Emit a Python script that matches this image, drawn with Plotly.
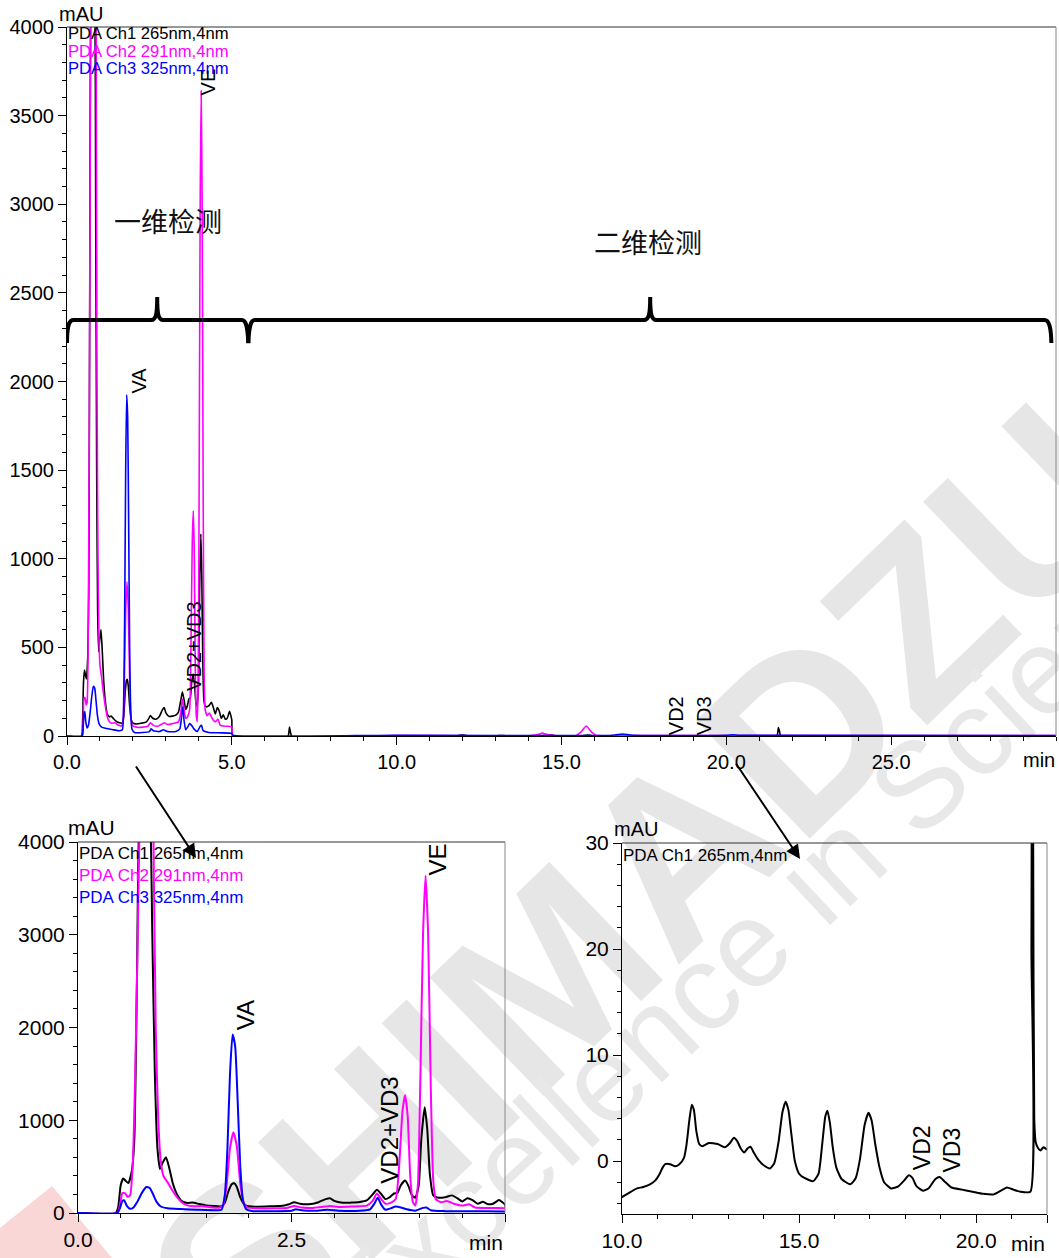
import plotly.graph_objects as go

W, H = 1059, 1258
FONT = "Liberation Sans, Arial, sans-serif"
CJK = "Noto Sans CJK SC"

# ---------------- data (time in min, absorbance in mAU) ----------------
# PDA Ch1 265nm (black)
CH1_DIM1 = [(0.00, 0), (0.44, 0), (0.47, 60), (0.50, 300), (0.53, 372), (0.56, 345), (0.59, 322),
            (0.63, 450), (0.66, 800), (0.69, 2500), (0.72, 4300), (0.78, 4700), (0.84, 4400),
            (0.87, 3000), (0.90, 1500), (0.93, 700), (0.96, 475), (0.99, 540), (1.03, 600),
            (1.07, 480), (1.11, 320), (1.16, 200), (1.22, 125), (1.28, 108), (1.34, 112),
            (1.42, 96), (1.50, 82), (1.59, 75), (1.68, 73), (1.72, 110), (1.76, 230), (1.80, 310),
            (1.83, 320), (1.86, 280), (1.90, 170), (1.95, 90), (2.00, 72), (2.10, 68), (2.25, 72),
            (2.40, 78), (2.47, 95), (2.53, 115), (2.60, 100), (2.70, 95), (2.80, 110), (2.90, 150),
            (2.95, 160), (3.00, 130), (3.10, 110), (3.20, 112), (3.30, 118), (3.38, 135),
            (3.45, 200), (3.50, 250), (3.55, 205), (3.60, 150), (3.65, 170), (3.70, 210),
            (3.74, 215), (3.78, 300), (3.83, 350), (3.87, 290), (3.91, 190), (3.95, 165),
            (3.99, 300), (4.02, 800), (4.06, 1140), (4.09, 900), (4.12, 420), (4.16, 190),
            (4.22, 165), (4.30, 170), (4.38, 190), (4.44, 160), (4.50, 125), (4.56, 160),
            (4.62, 140), (4.68, 100), (4.74, 120), (4.80, 95), (4.86, 100), (4.93, 140),
            (4.97, 115), (5.00, 90)]
CH1_DIM2 = [(5.03, -3), (5.5, -4), (6.5, -4), (6.70, -4), (6.73, 20), (6.75, 50), (6.78, 20),
            (6.82, -3), (7.5, -6), (8.5, -6), (9.5, -4.5),
            (10.0, -3.4), (10.2, -3.0), (10.41, -2.6), (10.6, -2.45), (10.79, -2.2), (10.95, -1.8),
            (11.05, -1.3), (11.15, -0.6), (11.22, -0.3), (11.36, -0.3), (11.5, -0.5), (11.62, -0.3),
            (11.75, 0.3), (11.82, 1.5), (11.9, 3.8), (11.97, 5.3), (12.03, 4.8), (12.1, 2.8),
            (12.18, 1.6), (12.27, 1.4), (12.45, 1.7), (12.7, 1.6), (12.9, 1.3), (13.05, 1.7),
            (13.16, 2.2), (13.25, 1.9), (13.35, 1.2), (13.45, 0.8), (13.55, 1.2), (13.63, 1.35),
            (13.72, 0.8), (13.85, 0.1), (14.0, -0.4), (14.18, -0.7), (14.3, -0.2), (14.42, 1.8),
            (14.53, 4.6), (14.62, 5.6), (14.7, 4.8), (14.78, 2.6), (14.88, 0.0), (15.0, -1.2),
            (15.15, -1.6), (15.4, -1.9), (15.55, -1.2), (15.65, 1.5), (15.74, 4.2), (15.8, 4.75),
            (15.87, 3.6), (15.95, 1.3), (16.05, -0.6), (16.2, -1.7), (16.45, -2.2), (16.6, -1.6),
            (16.72, 0.2), (16.85, 3.4), (16.96, 4.55), (17.05, 3.8), (17.15, 1.6), (17.27, -0.6),
            (17.4, -2.0), (17.6, -2.6), (17.8, -2.4), (17.95, -1.9), (18.1, -1.35), (18.2, -1.6),
            (18.32, -2.4), (18.5, -2.8), (18.65, -2.6), (18.85, -1.7), (18.97, -1.5), (19.1, -1.9),
            (19.3, -2.5), (19.6, -2.7), (19.9, -2.9), (20.2, -3.1), (20.5, -3.15), (20.7, -2.8),
            (20.87, -2.5), (21.05, -2.7), (21.25, -2.9), (21.53, -2.9), (21.56, 20), (21.58, 48),
            (21.61, 30), (21.64, 4), (21.68, 1.8), (21.75, 1.2), (21.82, 1.0), (21.9, 1.3),
            (22.0, 1.1), (22.3, 1.0), (23.0, 0.5), (25.0, 0.3), (27.0, 0.2), (30.0, 0.2)]

# PDA Ch2 291nm (magenta)
CH2_DIM1 = [(0.00, 0), (0.46, 0), (0.49, 80), (0.52, 215), (0.55, 215), (0.58, 175), (0.61, 190),
            (0.64, 500), (0.67, 1500), (0.70, 3000), (0.73, 4300), (0.80, 4700), (0.86, 4600),
            (0.89, 3500), (0.91, 2000), (0.94, 1000), (0.97, 550), (1.00, 400), (1.05, 330),
            (1.10, 250), (1.16, 170), (1.22, 110), (1.28, 82), (1.35, 72), (1.45, 75), (1.55, 62),
            (1.65, 56), (1.70, 80), (1.74, 300), (1.78, 700), (1.82, 870), (1.86, 720), (1.90, 320),
            (1.94, 110), (1.98, 60), (2.10, 50), (2.30, 50), (2.45, 55), (2.53, 75), (2.62, 60),
            (2.75, 55), (2.90, 70), (2.95, 75), (3.05, 65), (3.20, 70), (3.38, 80), (3.45, 130),
            (3.50, 210), (3.55, 150), (3.60, 100), (3.66, 110), (3.72, 150), (3.76, 500),
            (3.80, 1100), (3.83, 1270), (3.86, 1050), (3.89, 400), (3.92, 120), (3.95, 80),
            (3.98, 300), (4.01, 1500), (4.04, 3000), (4.07, 3640), (4.10, 3000), (4.13, 1400),
            (4.16, 350), (4.19, 150), (4.25, 115), (4.32, 130), (4.40, 100), (4.50, 80),
            (4.58, 95), (4.65, 60), (4.80, 55), (4.90, 55), (5.00, 50)]
CH2_DIM2 = [(5.03, 2), (10.0, 3), (14.1, 3), (14.3, 9), (14.42, 16), (14.55, 9), (14.75, 3),
            (15.45, 3), (15.6, 25), (15.75, 56), (15.9, 25), (16.05, 4), (17.0, 3), (20.0, 2),
            (30.0, 2)]

# PDA Ch3 325nm (blue)
CH3_DIM1 = [(0.00, 0), (0.46, 0), (0.49, 50), (0.52, 130), (0.54, 138), (0.57, 80), (0.61, 45),
            (0.65, 60), (0.70, 130), (0.75, 220), (0.80, 280), (0.84, 270), (0.88, 200),
            (0.92, 120), (0.97, 70), (1.05, 50), (1.20, 42), (1.40, 35), (1.60, 30), (1.68, 35),
            (1.72, 200), (1.75, 700), (1.78, 1500), (1.81, 1925), (1.84, 1800), (1.87, 1200),
            (1.90, 500), (1.93, 150), (1.97, 40), (2.05, 20), (2.30, 20), (2.50, 25), (2.55, 40),
            (2.62, 30), (2.80, 25), (2.92, 35), (3.05, 25), (3.30, 25), (3.42, 40), (3.47, 100),
            (3.51, 165), (3.55, 90), (3.60, 35), (3.66, 50), (3.72, 70), (3.78, 60), (3.85, 40),
            (3.95, 25), (4.04, 55), (4.08, 60), (4.13, 30), (4.30, 20), (4.60, 18), (5.00, 15)]
CH3_DIM2 = [(5.03, 5), (10.0, 4), (16.5, 4), (16.7, 8), (16.85, 11), (17.0, 8), (17.2, 4),
            (20.0, 4), (20.2, 7), (20.4, 4), (30.0, 3)]

CHANNELS = [
    ("PDA Ch1 265nm,4nm", "#000000", CH1_DIM1 + CH1_DIM2),
    ("PDA Ch2 291nm,4nm", "#ff00ff", CH2_DIM1 + CH2_DIM2),
    ("PDA Ch3 325nm,4nm", "#0000ff", CH3_DIM1 + CH3_DIM2),
]

TOP_XTICKS = [0, 5, 10, 15, 20, 25]
TOP_XTEXT = ["0.0", "5.0", "10.0", "15.0", "20.0", "25.0"]
BL_XTICKS = [0, 2.5, 5]
BL_XTEXT = ["0.0", "2.5", ""]
BR_XTICKS = [10, 15, 20, 22]
BR_XTEXT = ["10.0", "15.0", "20.0", ""]

# peak labels: (text, time, mAU)
TOP_LABELS = [("VE", 4.29, 3690), ("VA", 2.17, 2003), ("VD2+VD3", 3.85, 508),
              ("VD2", 18.48, 113), ("VD3", 19.33, 113)]
BL_LABELS = [("VA", 1.97, 2135), ("VE", 4.21, 3806), ("VD2+VD3", 3.65, 895)]
BR_LABELS = [("VD2", 18.47, 1.3), ("VD3", 19.32, 1.0)]


def px(x):
    return x / W


def py(y):
    return 1 - y / H


fig = go.Figure()

for name, color, pts in CHANNELS:
    t = [p[0] for p in pts]
    v = [p[1] for p in pts]
    fig.add_trace(go.Scatter(x=t, y=v, mode="lines", name=name, xaxis="x", yaxis="y",
                             line=dict(color=color, width=1.6, shape="spline", smoothing=0.5),
                             hoverinfo="skip"))
    fig.add_trace(go.Scatter(x=t, y=v, mode="lines", name=name, xaxis="x2", yaxis="y2",
                             line=dict(color=color, width=2, shape="spline", smoothing=0.5),
                             hoverinfo="skip"))

ch1 = CHANNELS[0][2]
fig.add_trace(go.Scatter(x=[p[0] for p in ch1], y=[p[1] for p in ch1], mode="lines",
                         xaxis="x3", yaxis="y3",
                         line=dict(color="#000000", width=2, shape="spline", smoothing=0.5),
                         hoverinfo="skip"))


def axis(**kw):
    base = dict(showgrid=False, zeroline=False, showline=True, linecolor="black", linewidth=1,
                ticks="outside", ticklen=8, tickwidth=1, tickcolor="black", automargin=False,
                tickfont=dict(family=FONT, size=20, color="black"))
    base.update(kw)
    return base


def minor(d, t0=0):
    return dict(ticks="outside", ticklen=4, tickcolor="black", tickwidth=1,
                tickmode="linear", tick0=t0, dtick=d)


BOTTOM_FONT = dict(family=FONT, size=21, color="black")

fig.update_layout(
    template="none",
    width=W, height=H, autosize=False,
    margin=dict(l=0, r=0, t=0, b=0, pad=0),
    paper_bgcolor="white", plot_bgcolor="rgba(0,0,0,0)",
    showlegend=False,
    xaxis=axis(domain=[px(67), px(1056)], range=[0, 30], anchor="y",
               tickmode="array", tickvals=TOP_XTICKS, ticktext=TOP_XTEXT, minor=minor(1)),
    yaxis=axis(domain=[py(736), py(27)], range=[0, 4000], anchor="x",
               tickmode="linear", tick0=0, dtick=500, minor=minor(100)),
    xaxis2=axis(domain=[px(78), px(505)], range=[0, 5], anchor="y2",
                tickmode="array", tickvals=BL_XTICKS, ticktext=BL_XTEXT, minor=minor(0.5),
                tickfont=BOTTOM_FONT),
    yaxis2=axis(domain=[py(1213), py(842)], range=[0, 4000], anchor="x2",
                tickmode="linear", tick0=0, dtick=1000, minor=minor(200), tickfont=BOTTOM_FONT),
    xaxis3=axis(domain=[px(622), px(1047)], range=[10, 22], anchor="y3",
                tickmode="array", tickvals=BR_XTICKS, ticktext=BR_XTEXT, minor=minor(1),
                tickfont=BOTTOM_FONT),
    yaxis3=axis(domain=[py(1214), py(843)], range=[-5, 30], anchor="x3",
                tickmode="array", tickvals=[0, 10, 20, 30], ticktext=["0", "10", "20", "30"],
                minor=minor(2), tickfont=BOTTOM_FONT),
)

shapes = []
# box lines (top and right) for each panel
for xa, ya in (("x", "y"), ("x2", "y2"), ("x3", "y3")):
    shapes.append(dict(type="line", xref=f"{xa} domain", yref=f"{ya} domain",
                       x0=0, x1=1, y0=1, y1=1, line=dict(color="#333333", width=1)))
    shapes.append(dict(type="line", xref=f"{xa} domain", yref=f"{ya} domain",
                       x0=1, x1=1, y0=0, y1=1, line=dict(color="#888888", width=1)))

# braces marking the first / second dimension
brace_left = ("M 0.0,2217 C 0.0,2300 0.03,2347 0.2,2347 L 2.55,2347 "
              "C 2.70,2347 2.736,2380 2.736,2477 C 2.736,2380 2.77,2347 2.92,2347 "
              "L 5.30,2347 C 5.45,2347 5.48,2300 5.50,2217")
brace_right = ("M 5.50,2217 C 5.52,2300 5.55,2347 5.70,2347 L 17.50,2347 "
               "C 17.65,2347 17.69,2380 17.69,2477 C 17.69,2380 17.73,2347 17.88,2347 "
               "L 29.65,2347 C 29.80,2347 29.85,2300 29.86,2217")
for pth in (brace_left, brace_right):
    shapes.append(dict(type="path", xref="x", yref="y", path=pth,
                       line=dict(color="black", width=4)))

# watermark (behind the traces)
shapes.append(dict(type="path", xref="paper", yref="paper", layer="below",
                   path=f"M {px(0)},{py(1228)} L {px(52)},{py(1186)} L {px(112)},{py(1258)} "
                        f"L {px(0)},{py(1258)} Z",
                   fillcolor="#fad7d7", line=dict(width=0)))
cx, cy = 625, 870
shapes.append(dict(type="line", xref="paper", yref="paper", layer="below",
                   x0=px(cx - 360), y0=py(cy + 347), x1=px(cx + 360), y1=py(cy - 347),
                   line=dict(color="rgba(0,0,0,0)", width=0),
                   label=dict(text="SHIMADZU", textposition="middle", yanchor="middle", padding=0,
                              font=dict(family=FONT, size=238, color="#e6e6e6", weight="bold"))))
ex, ey = 765, 912
shapes.append(dict(type="line", xref="paper", yref="paper", layer="below",
                   x0=px(ex - 292), y0=py(ey + 273), x1=px(ex + 292), y1=py(ey - 273),
                   line=dict(color="rgba(0,0,0,0)", width=0),
                   label=dict(text="Excellence in Science", textposition="middle", yanchor="middle",
                              padding=0, font=dict(family=FONT, size=122, color="#e8e8e8"))))
fig.update_layout(shapes=shapes)

ann = []


def text(x, y, s, size, color="black", xanchor="left", family=FONT, **kw):
    ann.append(dict(x=x, y=y, xref="paper", yref="paper", text=s, showarrow=False,
                    xanchor=xanchor, yanchor="middle",
                    font=dict(family=family, size=size, color=color), **kw))


# channel legends
for i, (name, color, _) in enumerate(CHANNELS):
    text(px(66), py([33, 51, 68][i]), name, 16.6, color)
    text(px(77), py([853, 875, 897][i]), name, 17, color)
text(px(621), py(855), CHANNELS[0][0], 17, "black")

# unit labels
text(px(57), py(14), "mAU", 20)
text(px(66), py(828), "mAU", 21)
text(px(612), py(829), "mAU", 20)
text(px(1057), py(760), "min", 20, xanchor="right")
text(px(505), py(1242), "min", 21, xanchor="right")
text(px(1047), py(1243), "min", 21, xanchor="right")

# dimension titles
text(px(168), py(221), "一维检测", 27, "#111111", xanchor="center", family=CJK)
text(px(648), py(241), "二维检测", 27, "#111111", xanchor="center", family=CJK)

# peak labels
for labels, xr, yr, size in ((TOP_LABELS, "x", "y", 20), (BL_LABELS, "x2", "y2", 24),
                             (BR_LABELS, "x3", "y3", 23)):
    for s, t, v in labels:
        ann.append(dict(x=t, y=v, xref=xr, yref=yr, text=s, showarrow=False, textangle=-90,
                        xanchor="center", yanchor="middle",
                        font=dict(family=FONT, size=size, color="black")))

# zoom arrows
for hx, hy, tx, ty in ((196, 858, 135, 765), (800, 859, 735, 762)):
    ann.append(dict(x=px(hx), y=py(hy), xref="paper", yref="paper", text="",
                    showarrow=True, ax=tx - hx, ay=ty - hy, axref="pixel", ayref="pixel",
                    arrowhead=2, arrowsize=1.4, arrowwidth=2, arrowcolor="black", standoff=0))

fig.update_layout(annotations=ann)

fig.write_html("out.html")
